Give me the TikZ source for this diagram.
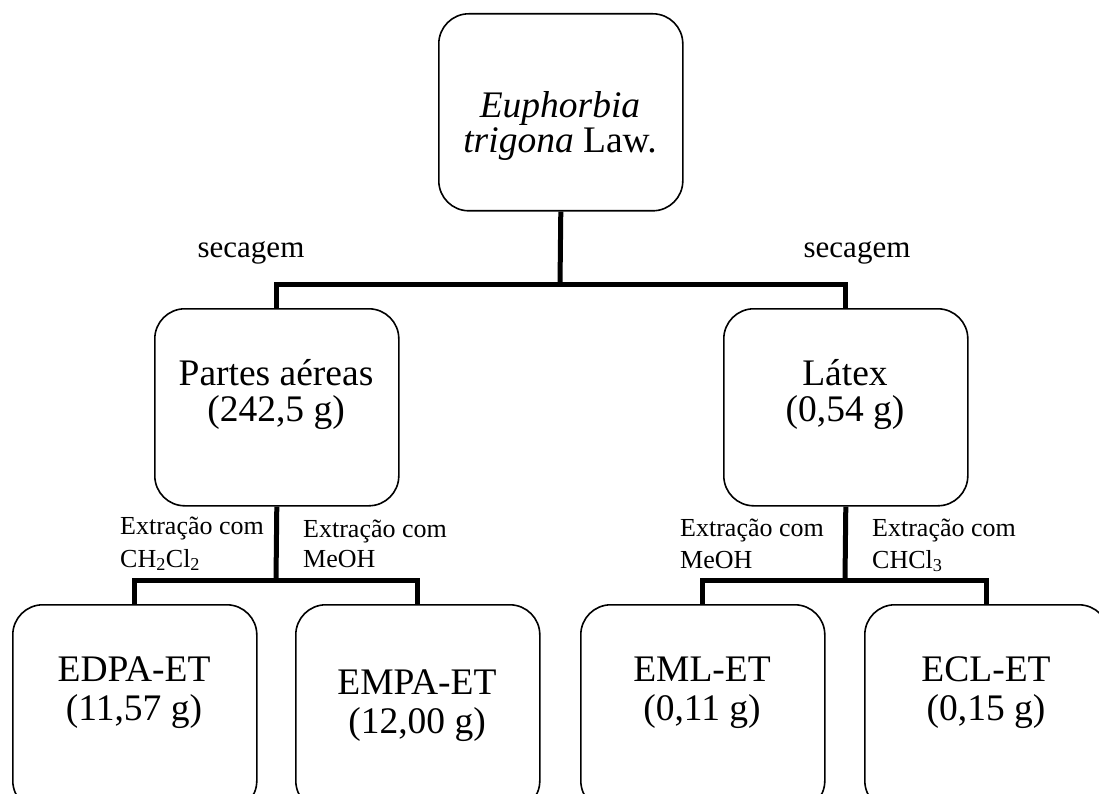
\documentclass[tikz,border=0pt]{standalone}
\usepackage{fontspec}
\setmainfont{Liberation Serif}
\begin{document}
\begin{tikzpicture}[x=1pt,y=-1pt,
  box/.style={draw, line width=1.6pt, rounded corners=30pt,
    minimum width=244pt, minimum height=197pt, inner sep=0pt, anchor=north west},
  lowbox/.style={box, minimum height=206pt},
  link/.style={line width=5pt, line join=miter},
  big/.style={font=\fontsize{37.5}{37}\selectfont, anchor=base, inner sep=0pt},
  dry/.style={font=\fontsize{31}{34}\selectfont, anchor=base, inner sep=0pt},
  small/.style={font=\fontsize{26}{33}\selectfont, anchor=base west, inner sep=0pt}]
\useasboundingbox (0,0) rectangle (1099,794);
\clip (0,0) rectangle (1099,794);

% boxes
\node[box] (top)  at (438,13)  {};
\node[box] (pa)   at (154,308) {};
\node[box] (lx)   at (723,308) {};
\node[lowbox] (edpa) at (12,604)  {};
\node[lowbox] (empa) at (295,604) {};
\node[lowbox] (eml)  at (580,604) {};
\node[lowbox] (ecl)  at (864,604) {};

% box texts
\node[big] (topa) at (560,118) {\textit{Euphorbia}};
\node[big] (topb) at (560,153) {\textit{trigona} Law.};
\node[big] (paa) at (276,385) {Partes aéreas};
\node[big] (pab) at (276,421) {(242,5 g)};
\node[big] (lxa) at (845,385) {Látex};
\node[big] (lxb) at (845,421) {(0,54 g)};
\node[big] (edpaa) at (134,681) {EDPA-ET};
\node[big] (edpab) at (134,720) {(11,57 g)};
\node[big] (empaa) at (417,694) {EMPA-ET};
\node[big] (empab) at (417,733) {(12,00 g)};
\node[big] (emla) at (702,681) {EML-ET};
\node[big] (emlb) at (702,720) {(0,11 g)};
\node[big] (ecla) at (986,681) {ECL-ET};
\node[big] (eclb) at (986,720) {(0,15 g)};

% first split
\coordinate (j0) at (560,284);
\draw[link] (top.south) -- (j0);
\draw[link] (pa.north) -- (pa.north |- j0) -- (lx.north |- j0) -- (lx.north);
\node[dry] (sec1) at (251,258) {secagem};
\node[dry] (sec2) at (857,258) {secagem};

% second split, aerial parts
\coordinate (j1) at (276,580);
\draw[link] (pa.south) -- (j1);
\draw[link] (edpa.north) -- (edpa.north |- j1) -- (empa.north |- j1) -- (empa.north);
\node[small] (e1a) at (120,534) {Extração com};
\node[small] (e1b) at (120,567) {CH\textsubscript{2}Cl\textsubscript{2}};
\node[small] (e2a) at (303,537) {Extração com};
\node[small] (e2b) at (303,567) {MeOH};

% second split, latex
\coordinate (j2) at (845,580);
\draw[link] (lx.south) -- (j2);
\draw[link] (eml.north) -- (eml.north |- j2) -- (ecl.north |- j2) -- (ecl.north);
\node[small] (e3a) at (680,536) {Extração com};
\node[small] (e3b) at (680,568) {MeOH};
\node[small] (e4a) at (872,536) {Extração com};
\node[small] (e4b) at (872,568) {CHCl\textsubscript{3}};
\end{tikzpicture}
\end{document}
